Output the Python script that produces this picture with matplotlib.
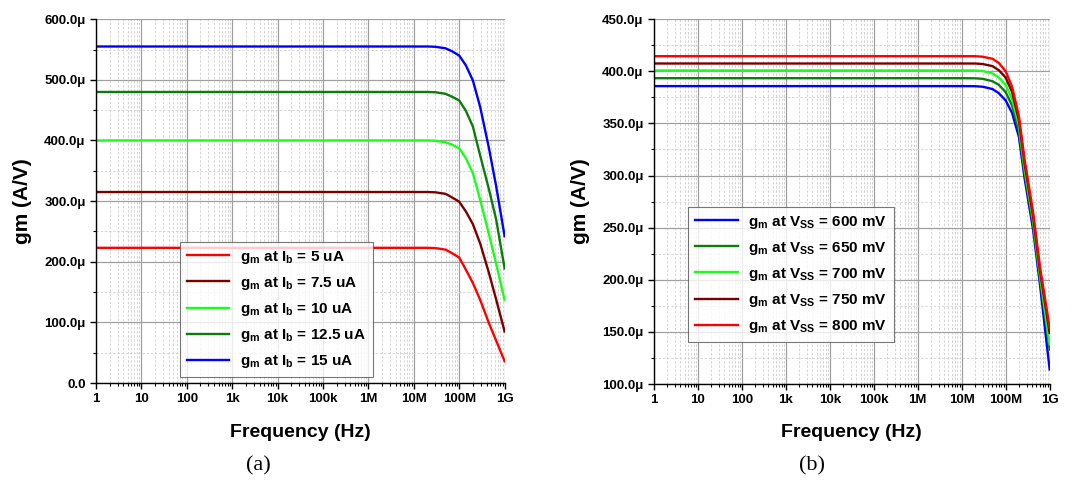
import matplotlib
matplotlib.use("Agg")
import matplotlib.pyplot as plt
import numpy as np
from matplotlib.ticker import MultipleLocator, LogLocator, NullFormatter, FuncFormatter

plt.rcParams['font.family'] = ['Liberation Sans', 'DejaVu Sans']
plt.rcParams['font.weight'] = 'bold'
plt.rcParams['mathtext.fontset'] = 'custom'
plt.rcParams['mathtext.rm'] = 'Liberation Sans:bold'
plt.rcParams['mathtext.it'] = 'Liberation Sans:bold'
plt.rcParams['mathtext.bf'] = 'Liberation Sans:bold'

# frequency sweep points (Hz)
freq_a = [1, 1e7, 2e7, 3e7, 5e7, 7e7, 1e8, 1.4e8, 2e8, 2.9e8, 4.5e8, 6.5e8, 1e9]
freq_b = [1, 1e7, 2e7, 3e7, 5e7, 7e7, 1e8, 1.4e8, 2e8, 2.7e8, 4.2e8, 6e8, 1e9]

# (a) gm vs frequency for several bias currents (uA/V)
ib_labels = ['5', '7.5', '10', '12.5', '15']
gm_ib5 = [223, 223, 223, 222.5, 220, 214, 207, 187, 165, 137, 99, 70, 36]
gm_ib75 = [315, 315, 315, 314.5, 312, 306, 299, 283, 262, 230, 182, 138, 85]
gm_ib10 = [400, 400, 400, 399.5, 397, 393, 387, 371, 346, 302, 246, 197, 137]
gm_ib125 = [480, 480, 480, 479.5, 477, 472, 466, 449, 423, 375, 320, 270, 189]
gm_ib15 = [555, 555, 555, 554.5, 552, 547, 540, 524, 499, 455, 388, 325, 242]

# (b) gm vs frequency for several supply voltages (uA/V)
vss_labels = ['600', '650', '700', '750', '800']
gm_v600 = [385.8, 385.8, 385.7, 385.2, 383, 379, 372, 360, 337, 297, 248, 196, 114]
gm_v650 = [393.4, 393.4, 393.3, 392.8, 390.5, 387, 380, 367, 343, 302, 253, 201, 133]
gm_v700 = [400.8, 400.8, 400.8, 400.3, 398, 394, 387, 373, 348, 306, 257, 205, 138]
gm_v750 = [407.5, 407.5, 407.5, 407, 405, 401, 394, 380, 353, 311, 261, 209, 149]
gm_v800 = [414.5, 414.5, 414.5, 414, 412, 408, 400, 385, 357, 315, 265, 213, 154]

xtick_vals = [1, 10, 100, 1e3, 1e4, 1e5, 1e6, 1e7, 1e8, 1e9]
xtick_labels = ['1', '10', '100', '1k', '10k', '100k', '1M', '10M', '100M', '1G']

RED = '#ff0000'
DKRED = '#7a0000'
GREEN = '#1aff1a'
DKGREEN = '#0b7d0b'
BLUE = '#0000ff'


def fmt_micro(v, pos):
    if abs(v) < 1e-9:
        return '0.0'
    return '%.1f\u03bc' % v


def style_axes(ax, ymin, ymax, ymajor):
    ax.set_xscale('log')
    ax.set_xlim(1, 1e9)
    ax.set_ylim(ymin, ymax)
    ax.set_xticks(xtick_vals)
    ax.set_xticklabels(xtick_labels)
    ax.xaxis.set_minor_locator(LogLocator(base=10, subs=np.arange(2, 10), numticks=20))
    ax.xaxis.set_minor_formatter(NullFormatter())
    ax.yaxis.set_major_locator(MultipleLocator(ymajor))
    ax.yaxis.set_minor_locator(MultipleLocator(ymajor / 2))
    ax.yaxis.set_major_formatter(FuncFormatter(fmt_micro))
    ax.grid(which='major', color='#a0a0a0', linewidth=0.9)
    ax.grid(which='minor', color='#d0d0d0', linewidth=0.6, linestyle=(0, (3, 2)))
    ax.set_axisbelow(True)
    for s in ['top', 'right']:
        ax.spines[s].set_visible(False)
    for s in ['left', 'bottom']:
        ax.spines[s].set_linewidth(1.0)
        ax.spines[s].set_color('black')
    ax.tick_params(which='major', direction='out', length=4, width=1.0, labelsize=9.5)
    ax.tick_params(which='minor', direction='out', length=2, width=0.8)
    for lab in ax.get_xticklabels() + ax.get_yticklabels():
        lab.set_fontweight('bold')
    ax.set_xlabel('Frequency (Hz)', fontsize=14, fontweight='bold', labelpad=13)
    ax.set_ylabel('gm (A/V)', fontsize=15, fontweight='bold', labelpad=9)


def add_legend(ax, anchor):
    leg = ax.legend(loc='lower left', bbox_to_anchor=anchor, fontsize=11,
                    frameon=True, fancybox=False, handlelength=2.8, borderpad=0.45,
                    labelspacing=0.6, handletextpad=0.7, borderaxespad=0)
    leg.get_frame().set_edgecolor('#555555')
    leg.get_frame().set_linewidth(0.8)
    return leg


fig = plt.figure(figsize=(10.81, 4.8), dpi=100)

# panel (a)
ax1 = fig.add_axes([0.0888, 0.202, 0.378, 0.758])
series_a = [(gm_ib5, RED), (gm_ib75, DKRED), (gm_ib10, GREEN), (gm_ib125, DKGREEN), (gm_ib15, BLUE)]
for (vals, col), lab in zip(series_a, ib_labels):
    ax1.plot(freq_a, vals, color=col, linewidth=1.7,
             label='g$_{m}$ at I$_{b}$ = %s uA' % lab)
style_axes(ax1, 0, 600, 100)
add_legend(ax1, (0.205, 0.016))

# panel (b)
ax2 = fig.add_axes([0.605, 0.2, 0.366, 0.76])
series_b = [(gm_v600, BLUE), (gm_v650, DKGREEN), (gm_v700, GREEN), (gm_v750, DKRED), (gm_v800, RED)]
for (vals, col), lab in zip(series_b, vss_labels):
    ax2.plot(freq_b, vals, color=col, linewidth=1.7,
             label='g$_{m}$ at V$_{SS}$ = %s mV' % lab)
style_axes(ax2, 100, 450, 50)
add_legend(ax2, (0.086, 0.115))

fig.text(0.239, 0.03, '(a)', fontsize=16, family='Liberation Serif', fontweight='normal',
         ha='center', va='center')
fig.text(0.751, 0.03, '(b)', fontsize=16, family='Liberation Serif', fontweight='normal',
         ha='center', va='center')

fig.savefig('out.png', dpi=100, facecolor='white')
